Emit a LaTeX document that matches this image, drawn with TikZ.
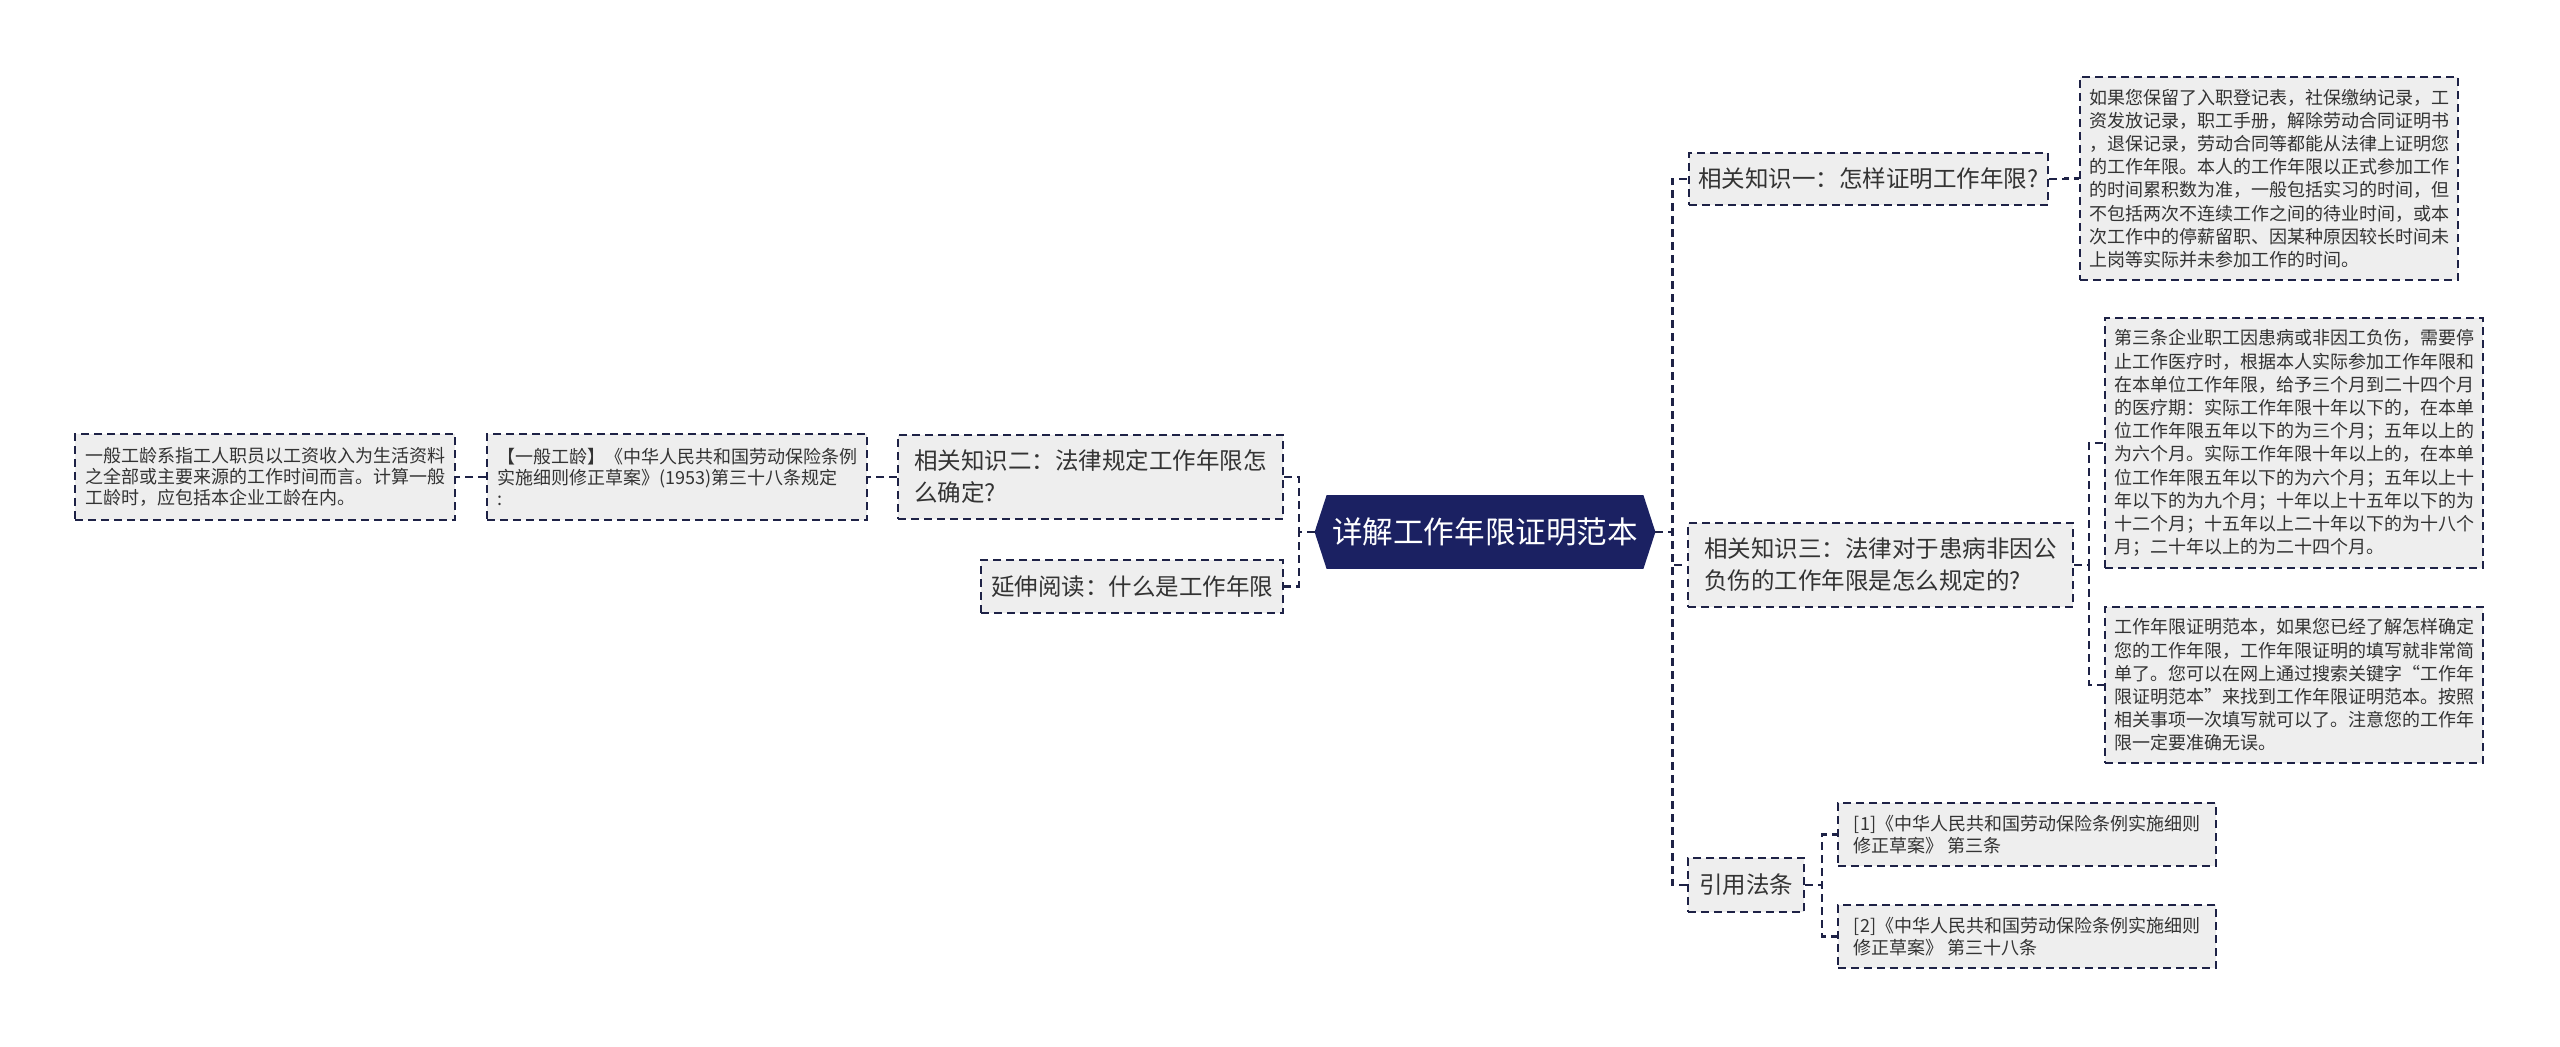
\documentclass[tikz,border=0pt]{standalone}
\usepackage{fontspec}
\setmainfont{Noto Sans CJK SC}
\usetikzlibrary{backgrounds}
\definecolor{rootnavy}{RGB}{27,33,98}
\definecolor{boxfill}{RGB}{238,238,238}
\definecolor{linecol}{RGB}{30,34,70}
\definecolor{txtcol}{RGB}{51,51,51}
\begin{document}
\begin{tikzpicture}[x=0.5pt, y=-0.5pt,
                    root/.style={text=white, font=\fontsize{15.3}{18}\selectfont,
                                 minimum width=170pt, minimum height=36.5pt, inner sep=0pt},
                    topic/.style={draw=linecol, dash pattern=on 4pt off 2.5pt, line width=0.9pt,
                                  fill=boxfill, text=txtcol, align=left, inner sep=3pt,
                                  font=\fontsize{11.75}{16}\selectfont},
                    detail/.style={topic, font=\fontsize{9}{11.6}\selectfont},
                    link/.style={draw=linecol, dash pattern=on 4pt off 2.5pt, line width=1.1pt}]
\useasboundingbox (0,0) rectangle (2560,1046);
\node[root] (root) at (1485,532) {详解工作年限证明范本};
\node[topic, minimum width=192.5pt, minimum height=42pt] (k2) at (1090.5,477)
  {相关知识二：法律规定工作年限怎\\么确定?};
\node[topic, minimum width=151pt, minimum height=26.5pt] (ext) at (1132,586.5)
  {延伸阅读：什么是工作年限};
\node[detail, font=\fontsize{9}{10.5}\selectfont, minimum width=190pt, minimum height=43pt] (gl) at (677,477)
  {【一般工龄】《中华人民共和国劳动保险条例\\实施细则修正草案》(1953)第三十八条规定\\:};
\node[detail, font=\fontsize{9}{10.5}\selectfont, minimum width=190pt, minimum height=43pt] (glx) at (265,477)
  {一般工龄系指工人职员以工资收入为生活资料\\之全部或主要来源的工作时间而言。计算一般\\工龄时，应包括本企业工龄在内。};
\node[topic, minimum width=179.5pt, minimum height=26pt] (k1) at (1868.5,179)
  {相关知识一：怎样证明工作年限?};
\node[topic, minimum width=192.5pt, minimum height=42pt] (k3) at (1880.5,565)
  {相关知识三：法律对于患病非因公\\负伤的工作年限是怎么规定的?};
\node[topic, minimum width=58pt, minimum height=27pt] (cite) at (1746,885) {引用法条};
\node[detail, minimum width=189pt, minimum height=101.5pt] (d1) at (2269,178.5)
  {如果您保留了入职登记表，社保缴纳记录，工\\资发放记录，职工手册，解除劳动合同证明书\\，退保记录，劳动合同等都能从法律上证明您\\的工作年限。本人的工作年限以正式参加工作\\的时间累积数为准，一般包括实习的时间，但\\不包括两次不连续工作之间的待业时间，或本\\次工作中的停薪留职、因某种原因较长时间未\\上岗等实际并未参加工作的时间。};
\node[detail, minimum width=189pt, minimum height=125pt] (d3a) at (2294,443)
  {第三条企业职工因患病或非因工负伤，需要停\\止工作医疗时，根据本人实际参加工作年限和\\在本单位工作年限，给予三个月到二十四个月\\的医疗期：实际工作年限十年以下的，在本单\\位工作年限五年以下的为三个月；五年以上的\\为六个月。实际工作年限十年以上的，在本单\\位工作年限五年以下的为六个月；五年以上十\\年以下的为九个月；十年以上十五年以下的为\\十二个月；十五年以上二十年以下的为十八个\\月；二十年以上的为二十四个月。};
\node[detail, minimum width=189pt, minimum height=78pt] (d3b) at (2294,685)
  {工作年限证明范本，如果您已经了解怎样确定\\您的工作年限，工作年限证明的填写就非常简\\单了。您可以在网上通过搜索关键字“工作年\\限证明范本”来找到工作年限证明范本。按照\\相关事项一次填写就可以了。注意您的工作年\\限一定要准确无误。};
\node[detail, font=\fontsize{9}{10.8}\selectfont, minimum width=189pt, minimum height=31.5pt] (c1) at (2027,834.5)
  {[1]《中华人民共和国劳动保险条例实施细则\\修正草案》 第三条};
\node[detail, font=\fontsize{9}{10.8}\selectfont, minimum width=189pt, minimum height=31.5pt] (c2) at (2027,936.5)
  {[2]《中华人民共和国劳动保险条例实施细则\\修正草案》 第三十八条};
\begin{scope}[on background layer]
\fill[rootnavy] (root.west) -- ([xshift=6pt]root.north west) -- ([xshift=-6pt]root.north east)
  -- (root.east) -- ([xshift=-6pt]root.south east) -- ([xshift=6pt]root.south west) -- cycle;
\end{scope}
\draw[link] (root.west) -- ++(-16,0) |- (k2.east);
\draw[link] (root.west) -- ++(-16,0) |- (ext.east);
\draw[link] (k2.west) -- (gl.east);
\draw[link] (gl.west) -- (glx.east);
\foreach \n in {k1,k3,cite}
  \draw[link] (root.east) -- ++(17,0) |- (\n.west);
\draw[link] (k1.east) -- ++(16,0) |- (d1.west);
\foreach \n in {d3a,d3b}
  \draw[link] (k3.east) -- ++(15,0) |- (\n.west);
\foreach \n in {c1,c2}
  \draw[link] (cite.east) -- ++(17,0) |- (\n.west);
\end{tikzpicture}
\end{document}
